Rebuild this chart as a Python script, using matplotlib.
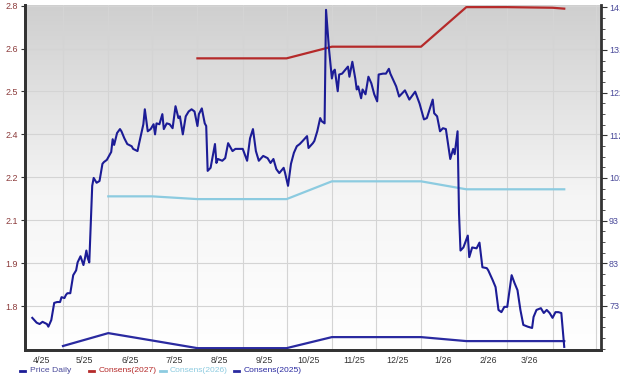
import numpy as np
import pandas as pd
import matplotlib
matplotlib.use("Agg")
import matplotlib.pyplot as plt
import matplotlib.dates as mdates
from matplotlib.ticker import FixedLocator, FormatStrFormatter, AutoMinorLocator
from matplotlib.lines import Line2D

plt.rcParams['font.family'] = ['Liberation Sans', 'DejaVu Sans']

# dates are day offsets from 2025-04-01
start = pd.Timestamp("2025-04-01")

price_day = [9, 12, 14, 16, 19, 20, 22, 24, 26, 28, 29, 31, 32, 33, 35, 37, 39, 40, 42, 44,
             45, 46, 47, 48, 50, 51, 53, 55, 57, 58, 60, 63, 64, 65, 67, 69, 70, 72, 74, 77,
             78, 81, 82, 85, 86, 88, 90, 92, 93, 94, 96, 98, 99, 101, 103, 105, 107, 109, 110, 112,
             114, 116, 118, 120, 122, 123, 125, 127, 128, 129, 131, 134, 135, 136, 139, 141, 143, 146, 148, 151,
             153, 156, 158, 160, 162, 164, 167, 170, 172, 174, 176, 178, 181, 182, 184, 186, 188, 190, 192, 194,
             197, 198, 201, 202, 204, 206, 207, 209, 210, 212, 214, 215, 216, 218, 219, 221, 225, 226, 228, 230,
             231, 232, 234, 235, 237, 239, 241, 243, 245, 246, 249, 251, 253, 254, 258, 260, 262, 264, 267, 271,
             274, 277, 279, 283, 284, 286, 288, 290, 292, 295, 297, 298, 300, 301, 302, 304, 307, 308, 310, 313,
             315, 317, 320, 321, 324, 326, 328, 330, 332, 334, 337, 339, 341, 343, 345, 348, 351, 352, 354, 357,
             359, 361, 363, 365, 367, 369, 371, 373]
price = [70.5, 69.4, 69.1, 69.6, 69.1, 68.5, 70.0, 73.9, 74.1, 74.1, 75.2, 75.0, 75.7, 76.1, 76.1, 80.2, 81.3, 83.1, 84.5, 82.5,
         84.0, 85.8, 84.0, 83.1, 100.5, 102.3, 101.2, 101.6, 105.5, 105.9, 106.4, 108.2, 111.1, 109.8, 112.5, 113.4, 112.9, 111.3, 110.0, 109.5,
         108.9, 108.4, 110.0, 114.5, 117.9, 112.9, 113.4, 114.5, 112.2, 114.7, 114.5, 116.8, 113.4, 114.7, 114.5, 113.6, 118.6, 115.9, 116.3, 112.2,
         116.3, 117.4, 117.9, 117.4, 114.1, 116.8, 118.1, 114.7, 114.1, 103.9, 104.6, 110.0, 105.7, 106.6, 106.2, 106.8, 110.2, 108.4, 108.9, 108.9,
         108.9, 106.2, 111.3, 113.4, 108.4, 106.2, 107.3, 106.8, 105.7, 106.6, 104.3, 103.4, 104.6, 103.4, 100.5, 105.5, 108.0, 109.5, 110.0, 110.7,
         111.8, 109.1, 110.2, 110.7, 112.9, 115.9, 115.2, 114.7, 140.5, 131.7, 124.9, 126.5, 126.9, 122.0, 125.8, 126.0, 127.6, 125.3, 128.7, 124.9,
         122.4, 123.1, 120.4, 122.4, 121.3, 125.3, 123.8, 121.3, 119.7, 125.8, 126.0, 126.0, 127.1, 126.0, 123.1, 120.8, 121.5, 122.2, 120.1, 121.9,
         119.2, 115.6, 115.9, 120.1, 117.0, 116.3, 112.9, 113.6, 113.4, 106.6, 108.9, 107.7, 112.9, 94.2, 85.8, 86.5, 89.2, 84.3, 86.5, 86.3,
         87.6, 82.0, 81.8, 81.3, 79.1, 77.5, 72.3, 71.8, 73.0, 73.0, 80.2, 78.4, 76.8, 72.3, 68.9, 68.5, 68.2, 70.7, 72.3, 72.7,
         71.6, 72.3, 71.6, 70.5, 71.8, 71.8, 71.6, 63.9]

cons_day = [30, 61, 91, 122, 153, 183, 214, 244, 275, 306, 334, 365, 373]
cons_2025 = [1.670, 1.712, 1.688, 1.663, 1.663, 1.663, 1.699, 1.699, 1.699, 1.686, 1.686, 1.686, 1.686]
cons_2026 = [None, 2.158, 2.158, 2.149, 2.149, 2.149, 2.207, 2.207, 2.207, 2.181, 2.181, 2.181, 2.181]
cons_2027 = [None, None, None, 2.608, 2.608, 2.608, 2.646, 2.646, 2.646, 2.775, 2.775, 2.773, 2.770]

# month labels sit mid-month, Apr 2025 .. Mar 2026
month_labels = pd.date_range("2025-04-01", "2026-03-01", freq="MS") + pd.Timedelta(days=15)
left_ticks = [1.80, 1.94, 2.08, 2.22, 2.36, 2.50, 2.64, 2.78]
right_ticks = [73.2, 82.9, 92.6, 102.3, 112.0, 121.7, 131.4, 141.1]

c_price = "#1c1c96"
c_27 = "#b52a2a"
c_26 = "#8ccbe0"
c_25 = "#2a2aa0"
fs = 6.4


def to_dates(days):
    return [start + pd.Timedelta(days=d) for d in days]


fig = plt.figure(figsize=(6.2, 3.75), dpi=100)
ax = fig.add_axes([0.0403, 0.0667, 0.9287, 0.92])
ax2 = ax.twinx()

# gray-to-white background
grad = np.linspace(0, 1, 256).reshape(-1, 1)
ax.imshow(grad, extent=[0, 1, 0, 1], transform=ax.transAxes, aspect="auto",
          cmap=matplotlib.colors.LinearSegmentedColormap.from_list(
              "bg", [(0, "#cfcfcf"), (0.55, "#f5f5f5"), (1, "#ffffff")]),
          zorder=0, origin="upper")

cd = to_dates(cons_day)
for vals, col in [(cons_2025, c_25), (cons_2026, c_26), (cons_2027, c_27)]:
    v = np.array([np.nan if x is None else x for x in vals], dtype=float)
    ax.plot(cd, v, color=col, lw=1.6, zorder=3)

ax2.plot(to_dates(price_day), price, color=c_price, lw=1.5, zorder=4)

ax.set_xlim(start + pd.Timedelta(days=4), start + pd.Timedelta(days=398))
ax.set_ylim(1.657, 2.782)
ax2.set_ylim(63.2, 141.6)

ax.yaxis.set_major_locator(FixedLocator(left_ticks))
ax.yaxis.set_major_formatter(FormatStrFormatter("%.1f"))
ax2.yaxis.set_major_locator(FixedLocator(right_ticks))
ax2.yaxis.set_major_formatter(FormatStrFormatter("%.0f"))
ax2.yaxis.set_minor_locator(AutoMinorLocator(4))

ax.xaxis.set_major_locator(mdates.MonthLocator())
ax.xaxis.set_major_formatter(plt.NullFormatter())
ax.xaxis.set_minor_locator(FixedLocator(mdates.date2num(month_labels)))
ax.xaxis.set_minor_formatter(mdates.DateFormatter("%-m/%y"))
ax.tick_params(axis="x", which="both", length=0, labelsize=fs, colors="#333333", pad=4)
ax.tick_params(axis="y", length=3, labelsize=fs, labelcolor="#8b3a3a", color="#333333", pad=2)
ax2.tick_params(axis="y", which="major", length=4, labelsize=fs, labelcolor="#4a4a9a", color="#333333", pad=2)
ax2.tick_params(axis="y", which="minor", length=3, color="#333333")

ax.grid(True, which="major", color="#d4d4d4", lw=0.8, zorder=1)
ax.set_axisbelow(True)

for a in (ax, ax2):
    a.spines["top"].set_visible(False)
    a.patch.set_visible(False)
for s in ("left", "bottom", "right"):
    ax2.spines[s].set_color("#333333")
    ax2.spines[s].set_linewidth(2)
ax.spines["left"].set_color("#333333")
ax.spines["left"].set_linewidth(2)
ax.spines["bottom"].set_color("#333333")
ax.spines["bottom"].set_linewidth(2)
ax.spines["right"].set_visible(False)

# legend row
items = [("Price Daily", c_price, "#4a4a9a", 0.037),
         ("Consens(2027)", c_27, c_27, 0.148),
         ("Consens(2026)", c_26, c_26, 0.263),
         ("Consens(2025)", c_25, c_25, 0.382)]
ly = 0.011
for label, lc, tc, lx in items:
    fig.add_artist(Line2D([lx - 0.005, lx + 0.004], [ly, ly],
                          transform=fig.transFigure, color=lc, lw=2))
    fig.text(lx + 0.011, ly, label, color=tc, fontsize=6.1, va="center")

fig.savefig("out.png", dpi=100)
